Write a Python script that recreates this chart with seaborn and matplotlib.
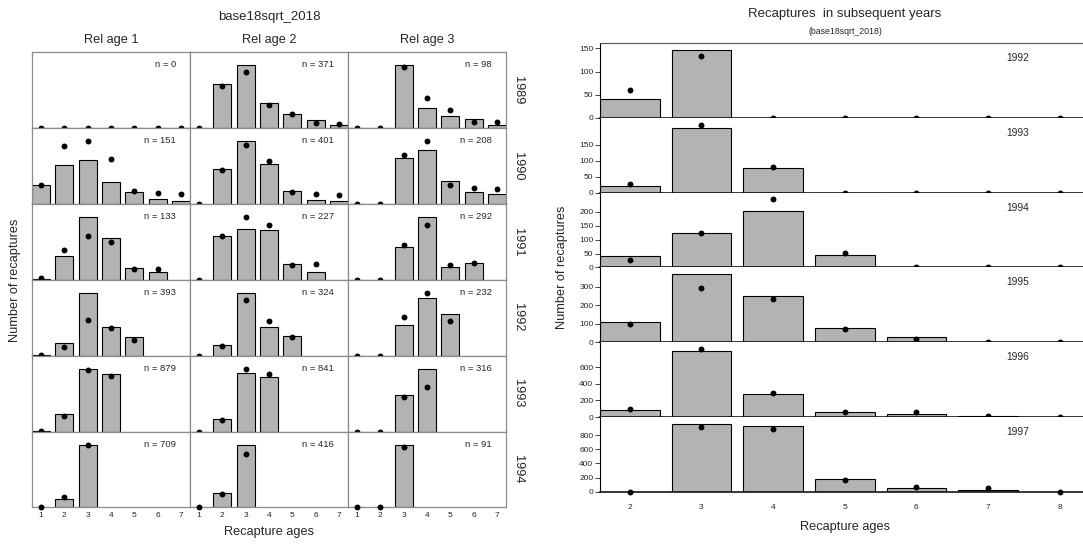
import numpy as np
import pandas as pd
import matplotlib
matplotlib.use("Agg")
import matplotlib.pyplot as plt
import matplotlib.transforms as mtransforms
import seaborn as sns

sns.set_style("white")
plt.rcParams['font.family'] = ['Liberation Sans', 'DejaVu Sans']

NA = np.nan

# ---------------- Left grid: recaptures by release age / release year ----------------
rel_ages = [1, 2, 3]
rel_years = [1989, 1990, 1991, 1992, 1993, 1994]
rec_ages = [1, 2, 3, 4, 5, 6, 7]

# observed (bars), relative heights, rows = release year
obs_rel1 = [
    [0, 0, 0, 0, 0, 0, 0],
    [19, 38.7, 44.7, 22, 12.3, 4.7, 3.3],
    [1, 23.3, 62.7, 41.3, 12, 8, NA],
    [0.7, 12.3, 62.3, 28.7, 18, NA, NA],
    [0.7, 17.3, 63, 57.3, NA, NA, NA],
    [0, 8.7, 62.3, NA, NA, NA, NA],
]
pred_rel1 = [
    [0, 0, 0, 0, 0, 0, 0],
    [19.3, 58.7, 63.3, 45.7, 13, 11, 10],
    [1.7, 29.7, 44, 37.7, 10.3, 11, NA],
    [1, 8.3, 35.3, 27.7, 15, NA, NA],
    [1, 15.3, 61.7, 55.3, NA, NA, NA],
    [0, 10, 62.7, NA, NA, NA, NA],
]
obs_rel2 = [
    [0, 43.3, 62.3, 24.3, 14, 8, 2.7],
    [0, 34.7, 63.3, 40, 13, 4.3, 2.7],
    [0, 44, 50.3, 49.3, 15.3, 8, NA],
    [0, 10.7, 62.3, 28.3, 19.3, NA, NA],
    [0, 12.3, 58.7, 54, NA, NA, NA],
    [0, 14, 62.7, NA, NA, NA, NA],
]
pred_rel2 = [
    [0, 41.7, 56, 23, 14, 5, 4.3],
    [0, 34, 59, 42.7, 12, 10.3, 9.3],
    [0, 43.3, 62.7, 54.3, 14.7, 16, NA],
    [0, 9.7, 55, 34.3, 18.7, NA, NA],
    [0, 11.7, 62.7, 57.7, NA, NA, NA],
    [0, 13, 53.3, NA, NA, NA, NA],
]
obs_rel3 = [
    [0, 0, 62.3, 19.3, 11.7, 9, 3],
    [0, 0, 45.7, 54, 22.3, 11.7, 10],
    [0, 0, 33.3, 63, 12.7, 17, NA],
    [0, 0, 31, 58, 41.7, NA, NA],
    [0, 0, 36, 62.7, NA, NA, NA],
    [0, 0, 63, NA, NA, NA, NA],
]
pred_rel3 = [
    [0, 0, 60.7, 29.7, 18, 6, 6],
    [0, 0, 48.3, 62.7, 18.3, 15.7, 14.3],
    [0, 0, 34.7, 55.3, 15, 16.3, NA],
    [0, 0, 38.7, 63, 34.7, NA, NA],
    [0, 0, 34, 44.3, NA, NA, NA],
    [0, 0, 61, NA, NA, NA, NA],
]
n_rel1 = [0, 151, 133, 393, 879, 709]
n_rel2 = [371, 401, 227, 324, 841, 416]
n_rel3 = [98, 208, 292, 232, 316, 91]

# ---------------- Right chart: recaptures in subsequent years ----------------
rec_years = [1992, 1993, 1994, 1995, 1996, 1997]
rec_ages_r = [2, 3, 4, 5, 6, 7, 8]
obs_r = [
    [41, 147, 0, 0, 0, 0, 0],
    [20, 204, 77, 0, 0, 0, 0],
    [40, 124, 202, 45, 0, 0, 0],
    [109, 367, 250, 79, 29, 0, 0],
    [88, 802, 273, 64, 36, 8, 0],
    [0, 958, 926, 187, 60, 25, 3],
]
pred_r = [
    [61, 133, 0, 0, 0, 0, 0],
    [26, 214, 82, 0, 0, 0, 0],
    [28, 123, 245, 51, 0, 0, 0],
    [98, 290, 235, 71, 18, 0, 0],
    [100, 822, 294, 65, 62, 18, 0],
    [0, 911, 878, 163, 74, 60, 0],
]
yticks_r = [
    [0, 50, 100, 150],
    [0, 50, 100, 150],
    [0, 50, 100, 150, 200],
    [0, 100, 200, 300],
    [0, 200, 400, 600],
    [0, 200, 400, 600, 800],
]

BAR_COL = '#b3b3b3'
W, H = 1083, 546
fig = plt.figure(figsize=(W / 100, H / 100), dpi=100)


def add_ax(left, top, width, height):
    return fig.add_axes([left / W, 1 - (top + height) / H, width / W, height / H])


def draw_panel(ax, ages, obs, pred, width, edge_lw=0.8):
    dfo = pd.DataFrame({'age': ages, 'val': obs}).dropna()
    dfp = pd.DataFrame({'age': ages, 'val': pred}).dropna()
    sns.barplot(data=dfo, x='age', y='val', native_scale=True, width=width,
                color=BAR_COL, saturation=1, edgecolor='black', linewidth=edge_lw,
                errorbar=None, ax=ax, zorder=2)
    sns.scatterplot(data=dfp, x='age', y='val', color='black', s=18,
                    edgecolor='black', linewidth=0, ax=ax, zorder=4, clip_on=False)


# ---- Left grid ----
col_left = [32, 190, 348]
col_w = 158
row_top = 52
row_h = 75.9
obs_all = [obs_rel1, obs_rel2, obs_rel3]
pred_all = [pred_rel1, pred_rel2, pred_rel3]
n_all = [n_rel1, n_rel2, n_rel3]

for c in range(3):
    for r in range(6):
        ax = add_ax(col_left[c], row_top + r * row_h, col_w, row_h)
        obs = obs_all[c][r]
        pred = pred_all[c][r]
        draw_panel(ax, rec_ages, obs, pred, 0.78, edge_lw=0.8)
        mx = np.nanmax(np.concatenate([np.array(obs, float), np.array(pred, float)]))
        ax.set_ylim(0, mx * 1.21 if mx > 0 else 1)
        ax.set_xlim(0.61, 7.39)
        ax.set_xlabel('')
        ax.set_ylabel('')
        ax.set_yticks([])
        for s in ax.spines.values():
            s.set_color('#8c8c8c')
            s.set_linewidth(0.9)
            s.set_visible(True)
        ax.text(0.91, 0.83, f'n = {n_all[c][r]}', transform=ax.transAxes,
                ha='right', va='center', fontsize=6.8)
        if r == 5:
            ax.set_xticks(rec_ages)
            ax.set_xticklabels([str(a) for a in rec_ages], fontsize=6)
            ax.tick_params(axis='x', length=2, width=0.6, pad=1.5, color='#555555')
        else:
            ax.set_xticks([])
        if c == 2:
            ax.text(1.075, 0.5, str(rel_years[r]), transform=ax.transAxes,
                    rotation=270, ha='center', va='center', fontsize=9.2)
    fig.text((col_left[c] + col_w / 2) / W, 1 - 40 / H, f'Rel age {rel_ages[c]}',
             ha='center', va='center', fontsize=9.2)

fig.text(269 / W, 1 - 17 / H, 'base18sqrt_2018', ha='center', va='center', fontsize=9.5)
fig.text(269 / W, 1 - 532 / H, 'Recapture ages', ha='center', va='center', fontsize=9.2)
fig.text(15 / W, 1 - 280 / H, 'Number of recaptures', ha='center', va='center',
         rotation=90, fontsize=9.2)

# ---- Right chart ----
r_left = 600
r_w = 489.5
r_top = 43
r_h = 74.8
for i, yr in enumerate(rec_years):
    ax = add_ax(r_left, r_top + i * r_h, r_w, r_h)
    draw_panel(ax, rec_ages_r, obs_r[i], pred_r[i], 1 / 1.2, edge_lw=0.8)
    mx = max(max(obs_r[i]), max(pred_r[i]))
    ax.set_ylim(0, mx * 1.1)
    ax.set_xlim(2 - 0.4167, 8 + 0.4167)
    ax.set_xlabel('')
    ax.set_ylabel('')
    ax.set_yticks(yticks_r[i])
    ax.set_yticklabels([str(t) for t in yticks_r[i]], fontsize=6)
    ax.tick_params(axis='y', left=True, length=3.6, width=0.6, pad=1.2)
    ax.spines['right'].set_visible(False)
    ax.spines['top'].set_visible(i == 0)
    ax.spines['top'].set_color('#555555')
    ax.spines['left'].set_color('black')
    ax.spines['bottom'].set_color('black')
    ax.spines['left'].set_linewidth(0.8)
    ax.spines['bottom'].set_linewidth(1.1)
    ax.spines['top'].set_linewidth(0.8)
    trans = mtransforms.blended_transform_factory(fig.transFigure, ax.transAxes)
    ax.text(1018 / W, 0.8, str(yr), transform=trans, ha='center', va='center',
            fontsize=7.4)
    if i == 5:
        ax.set_xticks(rec_ages_r)
        ax.set_xticklabels([str(a) for a in rec_ages_r], fontsize=6)
        ax.tick_params(axis='x', bottom=True, length=0, pad=9)
    else:
        ax.set_xticks([])

fig.text(845 / W, 1 - 14 / H, 'Recaptures  in subsequent years', ha='center',
         va='center', fontsize=9.5)
fig.text(845 / W, 1 - 31 / H, '(base18sqrt_2018)', ha='center', va='center', fontsize=6.3)
fig.text(845 / W, 1 - 527 / H, 'Recapture ages', ha='center', va='center', fontsize=9.2)
fig.text(562 / W, 1 - 267 / H, 'Number of recaptures', ha='center', va='center',
         rotation=90, fontsize=9.2)

fig.savefig('out.png', dpi=100)
